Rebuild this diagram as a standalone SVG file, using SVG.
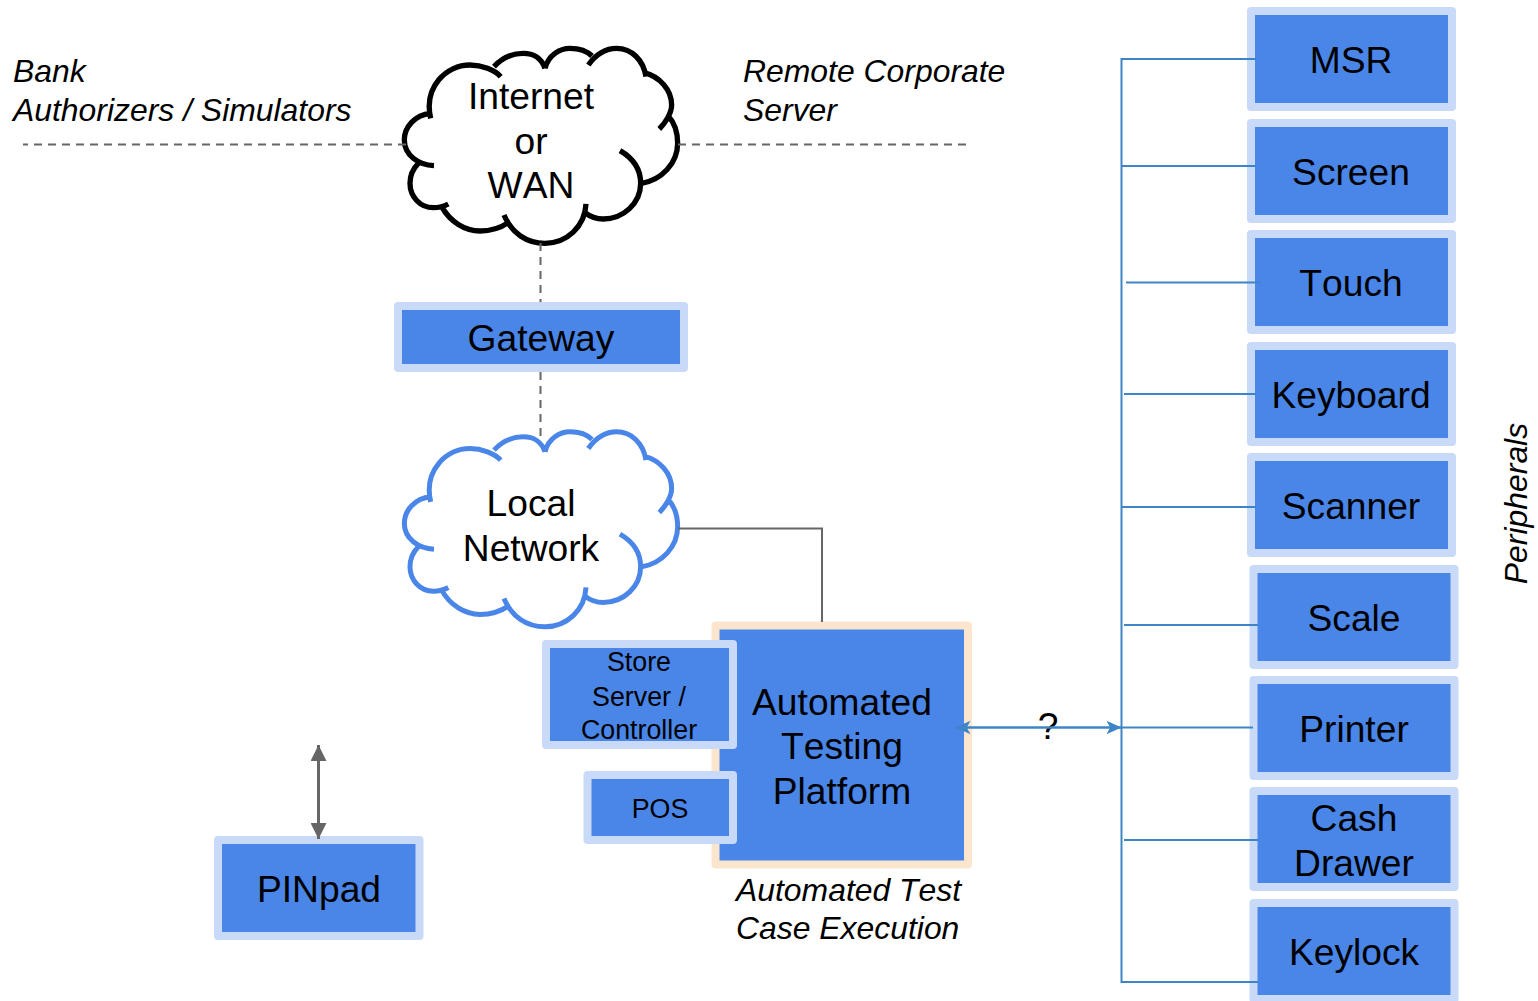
<svg xmlns="http://www.w3.org/2000/svg" width="1538" height="1001" viewBox="0 0 1538 1001">
<style>
text{font-family:"Liberation Sans",Arial,sans-serif;fill:#000;text-anchor:middle;font-kerning:none}
.l{font-size:37.2px}.s{font-size:26.8px}
.i{font-size:31.9px;font-style:italic;text-anchor:start}
.b{fill:#4a86e8;stroke:#c9daf8;stroke-width:8;stroke-linejoin:round}
.o{fill:#4a86e8;stroke:#fce5cd;stroke-width:8;stroke-linejoin:round}
.d{fill:none;stroke:#666;stroke-width:2;stroke-dasharray:8 6}
.g{fill:none;stroke:#666;stroke-width:2}
.p{fill:none;stroke:#3d85c6;stroke-width:2}
.c{fill:none}
</style>
<defs>
<path id="cloud" d="M122,265C100,170 170,105 240,105C275,105 315,120 332,140M312,110C340,80 370,70 400,70C430,70 455,85 465,115M465,115C475,75 510,55 540,55C570,55 590,62 606,78M595,105C620,70 650,55 680,55C725,55 760,90 768,140M762,128C810,140 845,180 845,225C845,250 825,280 808,297M835,258C855,280 863,310 863,340C863,400 815,450 755,460M690,362C730,385 752,420 752,460C752,520 700,567 640,567C620,567 600,560 585,548M588,522C585,590 530,640 465,640C410,640 365,610 342,555M355,578C330,595 300,603 270,603C225,603 180,575 155,530M175,522C160,530 145,533 130,533C90,533 60,500 60,460C60,435 70,415 85,400M132,407C85,405 43,375 43,330C43,290 75,255 122,250"/>
<marker id="ab" viewBox="0 0 10 10" refX="10" refY="5" markerUnits="userSpaceOnUse" markerWidth="15" markerHeight="15" orient="auto-start-reverse"><path d="M0,0.500L10,5L0,9.500L2.500,5Z" fill="#3d85c6"/></marker>
<marker id="ag" viewBox="0 0 10 10" refX="10" refY="5" markerUnits="userSpaceOnUse" markerWidth="16" markerHeight="16" orient="auto-start-reverse"><path d="M0,0L10,5L0,10Z" fill="#666"/></marker>
</defs>
<g id="labels">
<text class="i" x="13" y="82">Bank</text>
<text class="i" x="13" y="121">Authorizers / Simulators</text>
<text class="i" x="743" y="82">Remote Corporate</text>
<text class="i" x="743" y="121">Server</text>
<text class="i" x="736" y="901">Automated Test</text>
<text class="i" x="736" y="939">Case Execution</text>
<text class="i" style="text-anchor:middle" transform="translate(1527 503.500) rotate(-90)">Peripherals</text>
<text class="l" x="1048" y="739">?</text>
</g>
<g id="internet"><use href="#cloud" class="c" stroke="#000" stroke-width="16" transform="translate(390 30) scale(.3333)"/>
<text class="l" x="531" y="109">Internet</text><text class="l" x="531" y="154">or</text><text class="l" x="531" y="198">WAN</text></g>
<g id="gateway"><rect class="b" x="398" y="306" width="286" height="62"/><text class="l" x="541" y="351">Gateway</text></g>
<g id="local-network"><use href="#cloud" class="c" stroke="#4a86e8" stroke-width="15" transform="translate(390 413.500) scale(.3333)"/>
<text class="l" x="531" y="516">Local</text><text class="l" x="531" y="561">Network</text></g>
<g id="platform"><rect class="o" x="715.500" y="625.500" width="252.500" height="239"/>
<text class="l" x="842" y="715">Automated</text><text class="l" x="842" y="759">Testing</text><text class="l" x="842" y="804">Platform</text></g>
<g id="store"><rect class="b" x="546" y="644" width="187" height="101"/>
<text class="s" x="639" y="671">Store</text><text class="s" x="639" y="706">Server /</text><text class="s" x="639" y="739">Controller</text></g>
<g id="pos"><rect class="b" x="587.500" y="775" width="145.500" height="65"/><text class="s" x="660" y="818">POS</text></g>
<g id="pinpad"><rect class="b" x="218" y="840" width="201.500" height="96"/><text class="l" x="319" y="902">PINpad</text></g>
<g id="msr"><rect class="b" x="1251" y="11" width="201" height="96"/><text class="l" x="1351" y="73">MSR</text></g>
<g id="screen"><rect class="b" x="1251" y="123" width="201" height="96"/><text class="l" x="1351" y="185">Screen</text></g>
<g id="touch"><rect class="b" x="1251" y="234" width="201" height="96"/><text class="l" x="1351" y="296">Touch</text></g>
<g id="keyboard"><rect class="b" x="1251" y="346" width="201" height="96"/><text class="l" x="1351" y="408">Keyboard</text></g>
<g id="scanner"><rect class="b" x="1251" y="457" width="201" height="96"/><text class="l" x="1351" y="519">Scanner</text></g>
<g id="scale"><rect class="b" x="1253.500" y="569" width="201" height="96"/><text class="l" x="1354" y="631">Scale</text></g>
<g id="printer"><rect class="b" x="1253.500" y="680" width="201" height="96"/><text class="l" x="1354" y="742">Printer</text></g>
<g id="cash-drawer"><rect class="b" x="1253.500" y="791" width="201" height="96"/><text class="l" x="1354" y="831">Cash</text><text class="l" x="1354" y="876">Drawer</text></g>
<g id="keylock"><rect class="b" x="1253.500" y="903" width="201" height="96"/><text class="l" x="1354" y="965">Keylock</text></g>
<g id="connectors">
<path class="d" d="M406,144.500H23"/>
<path class="d" d="M678,144.500H968"/>
<path class="d" d="M540.500,243V302"/>
<path class="d" d="M540.500,372V436"/>
<path class="g" d="M678,528.500H822V622"/>
<path class="g" style="stroke-width:3" d="M318.500,745V839" marker-start="url(#ag)" marker-end="url(#ag)"/>
<path class="p" d="M1256,59H1121.500V982H1258"/>
<path class="p" d="M1122,166H1256"/>
<path class="p" d="M1126,282.500H1261"/>
<path class="p" d="M1124,394H1256"/>
<path class="p" d="M1122,507H1256"/>
<path class="p" d="M1124,625H1258"/>
<path class="p" d="M1122,727.500H1253"/>
<path class="p" d="M1124,840H1258"/>
<path class="p" style="stroke-width:2.500" d="M955.500,727.500H1121.500" marker-start="url(#ab)" marker-end="url(#ab)"/>
</g>
</svg>
